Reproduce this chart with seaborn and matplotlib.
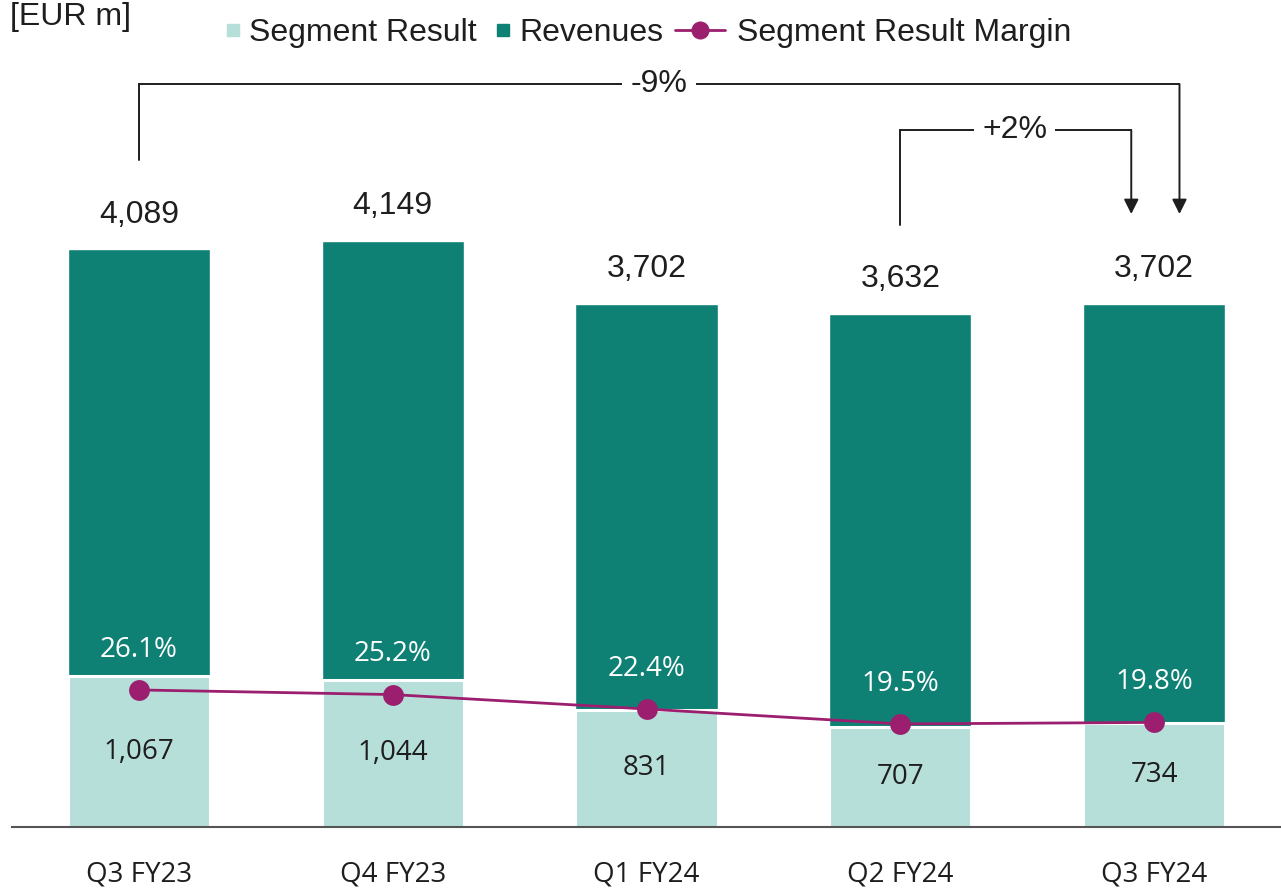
import numpy as np
import matplotlib
matplotlib.use("Agg")
import matplotlib.pyplot as plt
import seaborn as sns
from matplotlib.lines import Line2D

# Data
quarters = ["Q3 FY23", "Q4 FY23", "Q1 FY24", "Q2 FY24", "Q3 FY24"]
revenues = [4089, 4149, 3702, 3632, 3702]
segment_result = [1067, 1044, 831, 707, 734]
margin = [26.1, 25.2, 22.4, 19.5, 19.8]

# Colours
dark_teal = "#0e8174"
light_teal = "#b6dfda"
magenta = "#9b1f6e"
ink = "#1e1e1e"

sns.set_theme(style="white")
plt.rcParams["font.family"] = ["Liberation Sans", "DejaVu Sans"]
body_font = ["Open Sans", "DejaVu Sans"]

fig = plt.figure(figsize=(12.81, 8.93), dpi=100)
ax = fig.add_axes([12 / 1281, 66 / 893, 1 - 12 / 1281, 827 / 893])

pos = np.arange(len(quarters))

# Bars: full revenue in dark teal, segment result overlaid in light teal
sns.barplot(x=quarters, y=revenues, color=dark_teal, saturation=1, width=0.56, ax=ax)
sns.barplot(x=quarters, y=segment_result, color=light_teal, saturation=1, width=0.56,
            edgecolor="white", linewidth=2.2, ax=ax)

ax.set_xlim(-0.5, 4.5)
ax.set_ylim(0, 5855)
ax.set_yticks([])
ax.set_ylabel("")
for side in ["top", "left", "right"]:
    ax.spines[side].set_visible(False)
ax.spines["bottom"].set_color("#555555")
ax.spines["bottom"].set_linewidth(1.5)
ax.tick_params(axis="x", length=0, pad=24, labelsize=20, labelcolor=ink)
for lbl in ax.get_xticklabels():
    lbl.set_family(body_font)

# Value labels
for i in pos:
    ax.annotate(f"{revenues[i]:,}", (i, revenues[i]), xytext=(0, 25), textcoords="offset points",
                ha="center", va="center", fontsize=23, color=ink)
    ax.text(i, segment_result[i] / 2, f"{segment_result[i]:,}", ha="center", va="center",
            fontsize=20, color=ink, family=body_font)

# Margin line on a secondary scale
ax2 = ax.twinx()
sns.lineplot(x=pos, y=margin, ax=ax2, color=magenta, linewidth=2, marker="o",
             markersize=15, markeredgewidth=0)
ax2.set_ylim(-0.5, 160)
ax2.set_yticks([])
ax2.set_ylabel("")
for side in ax2.spines:
    ax2.spines[side].set_visible(False)
for i in pos:
    ax2.annotate(f"{margin[i]}%", (i, margin[i]), xytext=(0, 29), textcoords="offset points",
                 ha="center", va="center", fontsize=20, color="white", family=body_font)

# Growth brackets
def bracket(x0, x1, y_start, y_line, y_tip, label, x_label):
    ax.plot([x0, x0, x1], [y_start, y_line, y_line], color=ink, lw=1.4, solid_joinstyle="miter", zorder=5)
    ax.annotate("", xy=(x1, y_tip), xytext=(x1, y_line),
                arrowprops=dict(arrowstyle="-|>", color=ink, lw=1.4, mutation_scale=22,
                                shrinkA=0, shrinkB=0), zorder=5)
    ax.text(x_label, y_line, label, ha="center", va="center", fontsize=23, color=ink, zorder=6,
            bbox=dict(facecolor="white", edgecolor="none", pad=6))

bracket(0, 4.1, 4722, 5260, 4340, "-9%", 2.05)
bracket(3, 3.91, 4262, 4935, 4340, "+2%", 3.45)

# Unit label and legend
fig.text(10 / 1281, 1 - 2 / 893, "[EUR m]", ha="left", va="top", fontsize=23, color=ink)

square_handles = [
    Line2D([], [], linestyle="none", marker="s", markersize=8, color=light_teal),
    Line2D([], [], linestyle="none", marker="s", markersize=8, color=dark_teal),
]
leg1 = fig.legend(square_handles, ["Segment Result", "Revenues"],
                  loc="center left", bbox_to_anchor=(227 / 1281, 1 - 33 / 893), ncol=2,
                  frameon=False, fontsize=23, handlelength=0.4, handletextpad=0.3,
                  columnspacing=0.62, borderpad=0, borderaxespad=0, labelcolor=ink)
line_handle = [Line2D([], [], color=magenta, lw=2, marker="o", markersize=13, markeredgewidth=0)]
fig.legend(line_handle, ["Segment Result Margin"],
           loc="center left", bbox_to_anchor=(675 / 1281, 1 - 33 / 893), ncol=1,
           frameon=False, fontsize=23, handlelength=1.57, handletextpad=0.38,
           borderpad=0, borderaxespad=0, labelcolor=ink)

fig.savefig("out.png", dpi=100)
